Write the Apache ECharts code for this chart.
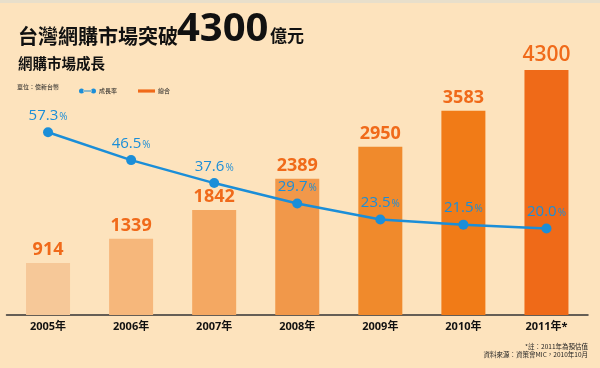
<!DOCTYPE html>
<html><head><meta charset="utf-8">
<script src="https://cdn.jsdelivr.net/npm/echarts@6/dist/echarts.min.js"></script>
<style>html,body{margin:0;padding:0;background:#fde3bd;}#c{width:600px;height:368px;}</style>
</head><body><div id="c"></div>
<script>
const categories = ['2005年','2006年','2007年','2008年','2009年','2010年','2011年*'];
const totalValues = [914, 1339, 1842, 2389, 2950, 3583, 4300];
const growthRates = [57.3, 46.5, 37.6, 29.7, 23.5, 21.5, 20.0];
const barColors = ['#f6c898','#f6b77b','#f4a862','#f1984a','#f08a2c','#f17b17','#ef6a18'];
const seriesNames = ['成長率','總合'];

const chart = echarts.init(document.getElementById('c'), null, {renderer:'canvas'});
const NUM_FONT = "'Open Sans', 'Noto Sans', sans-serif";
const NARROW = "'Liberation Sans Narrow', 'Open Sans', sans-serif";
const CJK = "'Noto Sans CJK TC', 'Noto Sans CJK SC', sans-serif";
const BLUE = '#1b8ed8';
const ORANGE = '#f06a1a';

chart.setOption({
  backgroundColor: '#fde3bd',
  animation: false,
  graphic: [
    {type:'rect', shape:{x:0,y:0,width:600,height:3}, style:{fill:'#e8dfcb'}},
    {type:'text', x:18, y:36, style:{text:'台灣網購市場突破', font:"bold 20px "+CJK, fill:'#111', verticalAlign:'middle'}},
    {type:'text', x:177, y:30, style:{text:'4300', font:"bold 40px "+NUM_FONT, fill:'#111', verticalAlign:'middle'}},
    {type:'text', x:270, y:36, style:{text:'億元', font:"bold 17px "+CJK, fill:'#111', verticalAlign:'middle'}},
    {type:'text', x:18, y:63, style:{text:'網購市場成長', font:"bold 14.5px "+CJK, fill:'#111', verticalAlign:'middle'}},
    {type:'text', x:17, y:87, style:{text:'單位：億新台幣', font:"6px "+CJK, fill:'#222', verticalAlign:'middle'}},
    {type:'text', x:588, y:347, style:{text:'*註：2011年為預估值', font:"6.5px "+CJK, fill:'#222', align:'right', verticalAlign:'middle'}},
    {type:'text', x:588, y:354.5, style:{text:'資料來源：資策會MIC，2010年10月', font:"6.5px "+CJK, fill:'#222', align:'right', verticalAlign:'middle'}}
  ],
  legend: {
    left: 74, top: 83,
    itemGap: 21,
    itemWidth: 17, itemHeight: 7,
    textStyle: {fontFamily: CJK, fontSize: 6, color:'#222', padding:[0,0,0,-2]},
    data: [
      {name: seriesNames[0], icon: 'path://M0,2.5a2.5,2.5 0 1,0 5,0a2.5,2.5 0 1,0 -5,0Z M12,2.5a2.5,2.5 0 1,0 5,0a2.5,2.5 0 1,0 -5,0Z M4,2H13V3H4Z', itemStyle:{color:BLUE}},
      {name: seriesNames[1], icon: 'path://M0,0H16V3H0Z', itemStyle:{color:ORANGE}}
    ]
  },
  grid: {left: 6.5, right: 12, top: 30, bottom: 53, containLabel: false},
  xAxis: {
    type: 'category',
    data: categories,
    axisLine: {show:true, lineStyle:{color:'#333', width:1.5}},
    axisTick: {show:false},
    axisLabel: {color:'#111', fontWeight:'bold', fontSize:11, fontFamily: NUM_FONT + ", " + CJK, margin: 6}
  },
  yAxis: [
    {type:'value', min:0, max:5000, show:false, splitLine:{show:false}},
    {type:'value', min:-13.5, max:96.9, show:false, splitLine:{show:false}}
  ],
  series: [
    {
      name: seriesNames[1],
      type: 'bar',
      barWidth: 44,
      data: totalValues.map((v,i)=>({
        value: v,
        itemStyle: {color: barColors[i]},
        label: i === totalValues.length-1 ? {fontSize: 21, fontFamily: NUM_FONT, fontWeight: 600} : undefined
      })),
      label: {show:true, position:'top', distance:4, color:ORANGE, fontSize:18, fontWeight:'bold', fontFamily:NARROW},
      z: 2
    },
    {
      name: seriesNames[0],
      type: 'line',
      yAxisIndex: 1,
      data: growthRates,
      symbol: 'circle',
      symbolSize: 10,
      lineStyle: {color: BLUE, width: 2.5},
      itemStyle: {color: BLUE},
      label: {
        show: true, position: 'top', distance: 4,
        formatter: p => '{n|' + p.value.toFixed(1) + '}{p|%}',
        rich: {
          n: {fontSize: 15, color: BLUE, fontFamily: NUM_FONT},
          p: {fontSize: 10, color: BLUE, fontFamily: NUM_FONT, verticalAlign:'bottom', padding:[0,0,1,1]}
        }
      },
      z: 5
    }
  ]
});
</script>
</body></html>
